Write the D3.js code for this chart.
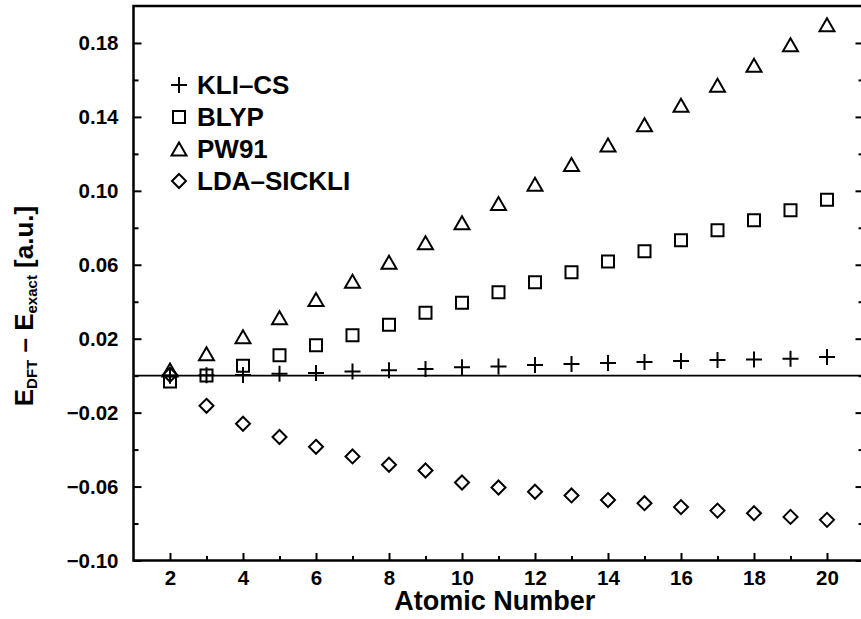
<!DOCTYPE html>
<html>
<head>
<meta charset="utf-8">
<script src="https://cdn.jsdelivr.net/npm/d3@7"></script>
<style>
  html, body { margin: 0; padding: 0; background: #fff; }
  svg { display: block; }
  text { font-family: "Liberation Sans", Arial, Helvetica, sans-serif; font-weight: bold; fill: #000; }
</style>
</head>
<body>
<svg id="chart" width="861" height="619"></svg>
<script>
// Error of total energies relative to exact values, atoms He (Z=2) to Ca (Z=20)
const atomicNumbers = [2, 3, 4, 5, 6, 7, 8, 9, 10, 11, 12, 13, 14, 15, 16, 17, 18, 19, 20];
const kliCs  = [0.0000, 0.0002, 0.0004, 0.0010, 0.0014, 0.0023, 0.0029, 0.0036, 0.0045, 0.0050, 0.0058, 0.0063, 0.0069, 0.0074, 0.0080, 0.0085, 0.0088, 0.0092, 0.0101];
const blyp   = [-0.0031, 0.0001, 0.0054, 0.0110, 0.0164, 0.0218, 0.0276, 0.0340, 0.0394, 0.0451, 0.0505, 0.0560, 0.0618, 0.0673, 0.0733, 0.0787, 0.0841, 0.0895, 0.0952];
const pw91   = [0.0030, 0.0119, 0.0210, 0.0313, 0.0412, 0.0511, 0.0614, 0.0719, 0.0827, 0.0932, 0.1035, 0.1143, 0.1248, 0.1357, 0.1463, 0.1571, 0.1680, 0.1790, 0.1898];
const ldaSic = [0.0005, -0.0163, -0.0260, -0.0332, -0.0385, -0.0437, -0.0482, -0.0513, -0.0578, -0.0605, -0.0628, -0.0648, -0.0673, -0.0690, -0.0711, -0.0730, -0.0744, -0.0764, -0.0780];

const seriesNames = ["KLI–CS", "BLYP", "PW91", "LDA–SICKLI"];
const seriesShapes = ["plus", "square", "triangle", "diamond"];
const seriesValues = [kliCs, blyp, pw91, ldaSic];

const xMajorTicks = [2, 4, 6, 8, 10, 12, 14, 16, 18, 20];
const xMinorTicks = [3, 5, 7, 9, 11, 13, 15, 17, 19];
const yMajorTicks = [-0.10, -0.06, -0.02, 0.02, 0.06, 0.10, 0.14, 0.18];
const yMinorTicks = [-0.08, -0.04, 0.00, 0.04, 0.08, 0.12, 0.16];

const svg = d3.select("#chart");
const plotLeft = 133.5, plotRight = 863.5, plotTop = 6, plotBottom = 560.5;

const x = d3.scaleLinear().domain([1, 21]).range([plotLeft, plotRight]);
const y = d3.scaleLinear().domain([-0.10, 0.20]).range([plotBottom, plotTop]);

// marker outlines, centred on the origin
function shapePath(kind) {
  const p = d3.path();
  if (kind === "plus") {
    const h = 8;
    p.moveTo(-h, 0); p.lineTo(h, 0);
    p.moveTo(0, -h); p.lineTo(0, h);
  } else if (kind === "square") {
    const h = 6;
    p.rect(-h, -h, 2 * h, 2 * h);
  } else if (kind === "triangle") {
    const w = 7.5, h = 6.5;
    p.moveTo(0, -h); p.lineTo(w, h); p.lineTo(-w, h); p.closePath();
  } else {
    const h = 7;
    p.moveTo(0, -h); p.lineTo(h, 0); p.lineTo(0, h); p.lineTo(-h, 0); p.closePath();
  }
  return p.toString();
}

const fmt = v => d3.format(".2f")(v).replace("-", "–");

// zero reference line
svg.append("line")
  .attr("x1", plotLeft).attr("x2", plotRight)
  .attr("y1", y(0)).attr("y2", y(0))
  .attr("stroke", "#000").attr("stroke-width", 1.6);

// axes with inward ticks
function styleAxis(g) {
  g.select(".domain").remove();
  g.selectAll(".tick line").attr("stroke", "#000").attr("stroke-width", 2);
  g.selectAll(".tick text")
    .style("font-size", "20.5px")
    .style("font-family", "'Liberation Sans', Arial, sans-serif")
    .style("font-weight", "bold");
}

svg.append("g").attr("transform", `translate(${plotLeft},0)`)
  .call(d3.axisLeft(y).tickValues(yMajorTicks).tickSizeInner(-8).tickSizeOuter(0).tickPadding(15).tickFormat(fmt))
  .call(styleAxis);
svg.append("g").attr("transform", `translate(${plotLeft},0)`)
  .call(d3.axisLeft(y).tickValues(yMinorTicks).tickSizeInner(-5).tickSizeOuter(0).tickFormat(""))
  .call(styleAxis);
svg.append("g").attr("transform", `translate(${plotRight},0)`)
  .call(d3.axisRight(y).tickValues(yMajorTicks).tickSizeInner(-8).tickSizeOuter(0).tickFormat(""))
  .call(styleAxis);
svg.append("g").attr("transform", `translate(${plotRight},0)`)
  .call(d3.axisRight(y).tickValues(yMinorTicks).tickSizeInner(-5).tickSizeOuter(0).tickFormat(""))
  .call(styleAxis);
svg.append("g").attr("transform", `translate(0,${plotBottom})`)
  .call(d3.axisBottom(x).tickValues(xMajorTicks).tickSizeInner(-7.5).tickSizeOuter(0).tickPadding(10).tickFormat(d3.format("d")))
  .call(styleAxis);
svg.append("g").attr("transform", `translate(0,${plotBottom})`)
  .call(d3.axisBottom(x).tickValues(xMinorTicks).tickSizeInner(-4.5).tickSizeOuter(0).tickFormat(""))
  .call(styleAxis);

// plot frame
svg.append("rect")
  .attr("x", plotLeft).attr("y", plotTop)
  .attr("width", plotRight - plotLeft).attr("height", plotBottom - plotTop)
  .attr("fill", "none").attr("stroke", "#000").attr("stroke-width", 2.5);

// data markers
seriesValues.forEach((vals, i) => {
  svg.append("g")
    .selectAll("path")
    .data(atomicNumbers.map((z, j) => ({ z, v: vals[j] })))
    .join("path")
    .attr("transform", d => `translate(${x(d.z)},${y(d.v)})`)
    .attr("d", shapePath(seriesShapes[i]))
    .attr("fill", "none")
    .attr("stroke", "#000")
    .attr("stroke-width", 2)
    .attr("stroke-linejoin", "miter");
});

// legend
const legend = svg.append("g").attr("transform", "translate(179,85)");
seriesNames.forEach((name, i) => {
  const row = legend.append("g").attr("transform", `translate(0,${i * 32})`);
  row.append("path")
    .attr("d", shapePath(seriesShapes[i]))
    .attr("fill", "none").attr("stroke", "#000").attr("stroke-width", 2);
  row.append("text")
    .attr("x", 18).attr("y", 0).attr("dy", "0.36em")
    .style("font-size", "26px")
    .text(name);
});

// axis titles
svg.append("text")
  .attr("x", (plotLeft + 860) / 2 - 2).attr("y", 610)
  .attr("text-anchor", "middle")
  .style("font-size", "27px")
  .text("Atomic Number");

const yTitle = svg.append("text")
  .attr("transform", "translate(33,306) rotate(-90)")
  .attr("text-anchor", "middle")
  .style("font-size", "26px");
yTitle.append("tspan").text("E");
yTitle.append("tspan").attr("baseline-shift", "-25%").style("font-size", "15px").text("DFT");
yTitle.append("tspan").text(" – E");
yTitle.append("tspan").attr("baseline-shift", "-25%").style("font-size", "15px").text("exact");
yTitle.append("tspan").text(" [a.u.]");
</script>
</body>
</html>
